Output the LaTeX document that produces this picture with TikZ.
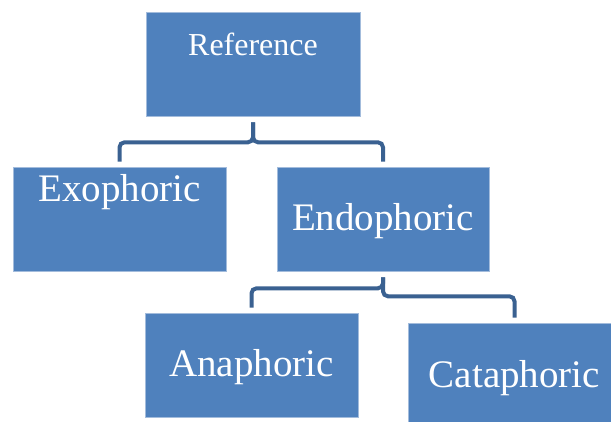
\documentclass[tikz,border=0pt]{standalone}
\usepackage{fontspec}
\setmainfont{Liberation Serif}
\usepackage{xcolor}
\usepackage{tikz}
\usetikzlibrary{positioning,calc}
\definecolor{refBlue}{HTML}{4F81BD}
\definecolor{refLink}{HTML}{3A6191}
\definecolor{refEdge}{HTML}{A3BCDC}

\tikzset{
  box/.style={fill=refBlue,draw=refEdge,line width=0.6pt,text=white,
    minimum width=213pt,minimum height=104pt,inner sep=0pt,
    font=\fontsize{39}{41}\selectfont},
  link/.style={draw=refLink,line width=4pt,rounded corners=5pt,
    shorten <=6pt,shorten >=5pt}
}

\begin{document}
\begin{tikzpicture}
  \useasboundingbox (0,0) rectangle (611pt,421pt);
  \clip (0,0) rectangle (611pt,421pt);
  % boxes
  \node[box,font=\fontsize{32}{34}\selectfont,text height=20pt,text depth=36pt,minimum width=214pt]
    (ref) at (253pt,357pt) {Reference};
  \node[box,text height=25pt,text depth=59pt] (exo) at (119.5pt,202pt) {Exophoric};
  \node[box,text height=25pt,text depth=1pt,minimum width=212pt] (endo) at (383pt,202pt) {Endophoric};
  \node[box,text height=25pt,text depth=3pt] (ana) at (251.5pt,56pt) {Anaphoric};
  \node[box,text height=26pt,text depth=2pt] (cata) at (514.5pt,46pt) {Cataphoric};
  % connectors
  \draw[link] (ref.south) -- ++(0,-26pt) -| (exo.north);
  \draw[link] (ref.south) -- ++(0,-26pt) -| (endo.north);
  \draw[link] (endo.south) -- ++(0,-17pt) -| (ana.north);
  \draw[link] (endo.south) -- ++(0,-25pt) -| (cata.north);
\end{tikzpicture}
\end{document}
